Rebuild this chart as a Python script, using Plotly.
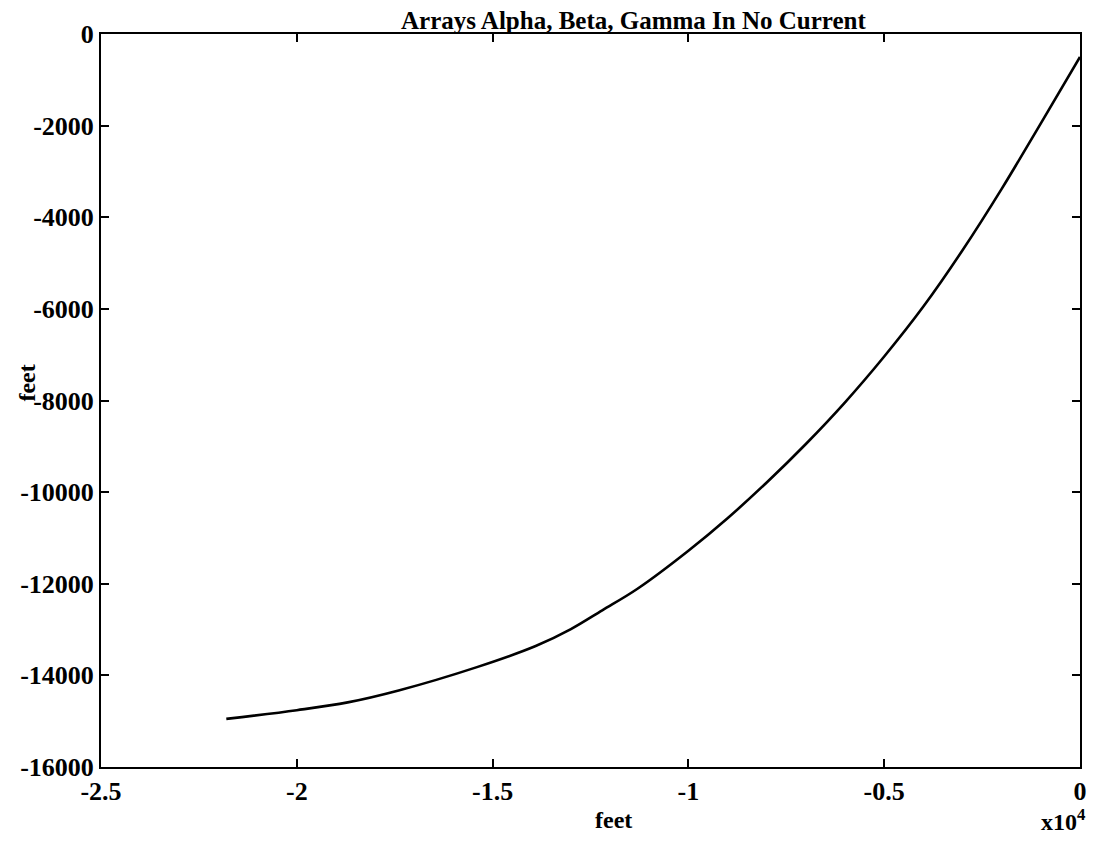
import plotly.graph_objects as go

# Data (feet)
x_feet = [-21800, -20000, -18700, -17400, -15400, -13900, -13000, -12200, -11300,
          -10000, -9000, -8000, -7000, -6000, -5000, -4000, -3000, -2000, -1000, 0]
y_feet = [-14950, -14760, -14590, -14330, -13820, -13360, -12990, -12580, -12110,
          -11280, -10570, -9790, -8950, -8040, -7040, -5950, -4720, -3380, -1950, -500]

x_tick_vals = [-25000, -20000, -15000, -10000, -5000, 0]
x_tick_text = ["-2.5", "-2", "-1.5", "-1", "-0.5", "0"]
y_tick_vals = [0, -2000, -4000, -6000, -8000, -10000, -12000, -14000, -16000]
y_tick_text = ["0", "-2000", "-4000", "-6000", "-8000", "-10000", "-12000", "-14000", "-16000"]

title_text = "Arrays Alpha, Beta, Gamma In No Current"
x_label = "feet"
y_label = "feet"
x_exponent = "x10<sup>4</sup>"

FONT = "Liberation Serif"
W, H = 1099, 842
L, R, T, B = 90, 27, 12, 83
PW, PH = W - L - R, H - T - B

def px_to_paper(px, py):
    return (px - L) / PW, (H - B - py) / PH

fig = go.Figure()
fig.add_trace(go.Scatter(
    x=x_feet, y=y_feet, mode="lines",
    line=dict(color="black", width=2.6, shape="spline", smoothing=1.0),
    showlegend=False, hoverinfo="skip",
))

axis_common = dict(
    showgrid=False, zeroline=False, showline=True, linecolor="black", linewidth=2,
    mirror="ticks", ticks="inside", ticklen=8, tickwidth=1.5, tickcolor="black",
    tickfont=dict(family=FONT, size=26, color="black", weight="bold"),
)

fig.update_layout(
    width=W, height=H,
    margin=dict(l=L, r=R, t=T, b=B),
    paper_bgcolor="white", plot_bgcolor="white",
    xaxis=dict(range=[-25000, 0], tickvals=x_tick_vals, ticktext=x_tick_text,
               **axis_common),
    yaxis=dict(range=[-16000, 0], tickvals=y_tick_vals, ticktext=y_tick_text,
               **axis_common),
)

# title
tx, ty = px_to_paper(624, 14)
fig.add_annotation(text="<b>" + title_text + "</b>", xref="paper", yref="paper",
                   x=tx, y=ty, xanchor="center", yanchor="bottom", showarrow=False,
                   font=dict(family=FONT, size=25, color="black"))
# x label
fx, fy = px_to_paper(604, 813)
fig.add_annotation(text="<b>" + x_label + "</b>", xref="paper", yref="paper",
                   x=fx, y=fy, xanchor="center", yanchor="middle", showarrow=False,
                   font=dict(family=FONT, size=24, color="black"))
# exponent
ex, ey = px_to_paper(1055, 813)
fig.add_annotation(text="<b>" + x_exponent + "</b>", xref="paper", yref="paper",
                   x=ex, y=ey, xanchor="center", yanchor="middle", showarrow=False,
                   font=dict(family=FONT, size=24, color="black"))
# y label
yx, yy = px_to_paper(16, 368)
fig.add_annotation(text="<b>" + y_label + "</b>", xref="paper", yref="paper",
                   x=yx, y=yy, xanchor="center", yanchor="middle", showarrow=False,
                   textangle=-90, font=dict(family=FONT, size=24, color="black"))

fig.write_html("out.html")
